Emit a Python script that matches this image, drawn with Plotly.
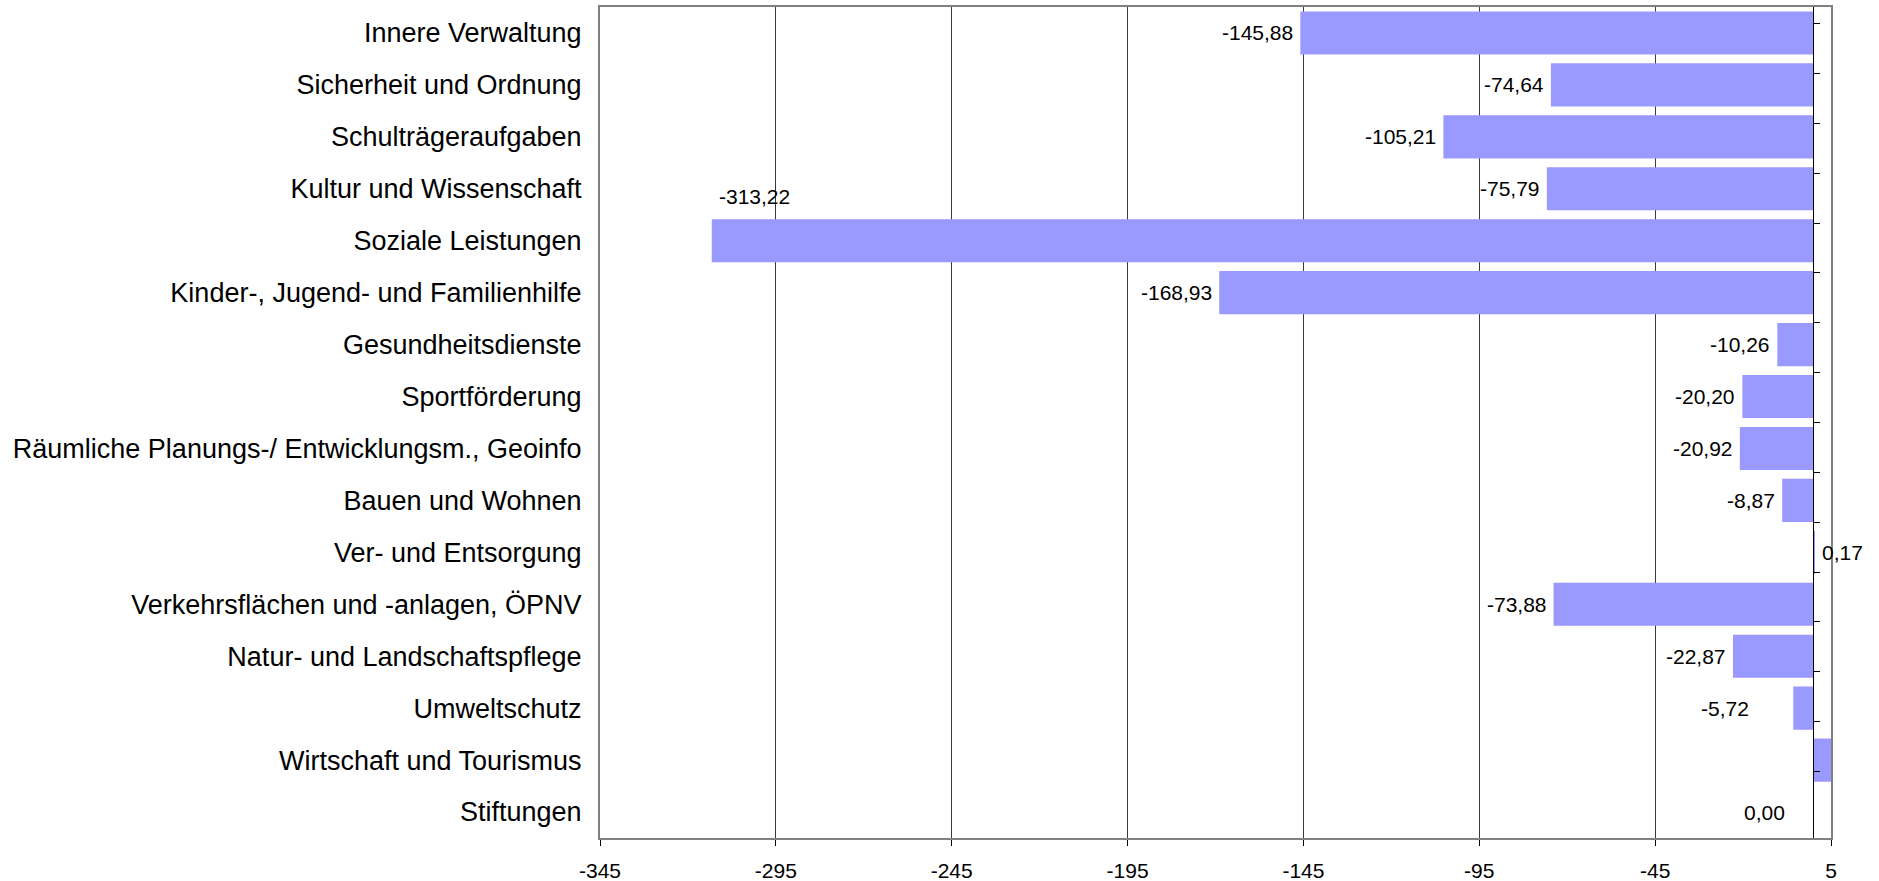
import plotly.graph_objects as go

categories = [
    "Innere Verwaltung",
    "Sicherheit und Ordnung",
    "Schulträgeraufgaben",
    "Kultur und Wissenschaft",
    "Soziale Leistungen",
    "Kinder-, Jugend- und Familienhilfe",
    "Gesundheitsdienste",
    "Sportförderung",
    "Räumliche Planungs-/ Entwicklungsm., Geoinfo",
    "Bauen und Wohnen",
    "Ver- und Entsorgung",
    "Verkehrsflächen und -anlagen, ÖPNV",
    "Natur- und Landschaftspflege",
    "Umweltschutz",
    "Wirtschaft und Tourismus",
    "Stiftungen",
]
values = [-145.88, -74.64, -105.21, -75.79, -313.22, -168.93, -10.26, -20.20,
          -20.92, -8.87, 0.17, -73.88, -22.87, -5.72, 6.7, 0.00]
labels = ["-145,88", "-74,64", "-105,21", "-75,79", "-313,22", "-168,93", "-10,26", "-20,20",
          "-20,92", "-8,87", "0,17", "-73,88", "-22,87", "-5,72", "", "0,00"]
x_ticks = [-345, -295, -245, -195, -145, -95, -45, 5]

x_min, x_max = -345, 5

FONT = "Liberation Sans, Arial, sans-serif"

# label placement style (Excel-like)
label_style = {
    "Soziale Leistungen": dict(xanchor="left", xshift=5, yshift=44),
    "Ver- und Entsorgung": dict(xanchor="left", xshift=6, yshift=0),
    "Stiftungen": dict(xanchor="right", xshift=-26, yshift=0),
    "Umweltschutz": dict(xanchor="right", xshift=-42, yshift=0),
}

fig = go.Figure()
fig.add_trace(go.Bar(
    y=categories, x=values, orientation="h",
    marker=dict(color="#9999FF", line=dict(width=0)),
    cliponaxis=False, showlegend=False, hoverinfo="skip",
))
# helper trace for the category axis drawn at x = 0
fig.add_trace(go.Scatter(
    y=categories, x=[0] * len(categories), yaxis="y2", mode="none",
    showlegend=False, hoverinfo="skip",
))

for cat, v, lab in zip(categories, values, labels):
    if not lab:
        continue
    st = label_style.get(cat, dict(xanchor="right", xshift=-5, yshift=0))
    fig.add_annotation(
        x=v, y=cat, text=lab, showarrow=False,
        xanchor=st["xanchor"], yanchor="middle",
        xshift=st["xshift"], yshift=st["yshift"],
        font=dict(family=FONT, size=21, color="black"),
    )

zero_pos = (0 - x_min) / (x_max - x_min)

fig.update_layout(
    width=1879, height=881,
    margin=dict(l=600, r=48, t=7, b=43),
    paper_bgcolor="white", plot_bgcolor="white",
    bargap=0.17,
    font=dict(family=FONT, color="black"),
    xaxis=dict(
        range=[x_min, x_max], tickvals=x_ticks, ticktext=[str(t) for t in x_ticks],
        showgrid=True, gridcolor="#3a3a3a", gridwidth=1,
        zeroline=False, showline=True, linecolor="#808080", linewidth=2, mirror=True,
        ticks="outside", ticklen=6, tickcolor="#000000", ticklabelstandoff=7,
        tickfont=dict(size=21), fixedrange=True, automargin=False,
    ),
    yaxis=dict(
        categoryorder="array", categoryarray=categories, autorange="reversed",
        showgrid=False, zeroline=False, showline=True, linecolor="#808080", linewidth=2,
        mirror=True, ticks="", tickfont=dict(size=27), ticklabelstandoff=11,
        automargin=False,
    ),
    yaxis2=dict(
        overlaying="y", anchor="free", position=zero_pos, side="right",
        categoryorder="array", categoryarray=categories, autorange="reversed",
        showgrid=False, zeroline=False, showline=True, linecolor="#000000", linewidth=1,
        ticks="outside", ticklen=6, tickcolor="#000000", tickson="boundaries",
        showticklabels=False, automargin=False,
    ),
)

fig.write_html("out.html")
